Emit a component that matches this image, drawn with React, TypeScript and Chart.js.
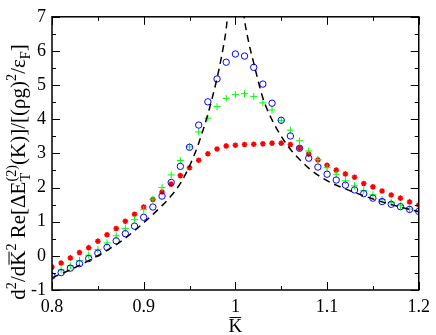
import { useEffect, useRef } from 'react';
import { Chart, registerables } from 'chart.js';

Chart.register(...registerables);

// ---- data ----
const kValues = [
  0.80, 0.81, 0.82, 0.83, 0.84, 0.85, 0.86, 0.87, 0.88, 0.89,
  0.90, 0.91, 0.92, 0.93, 0.94, 0.95, 0.96, 0.97, 0.98, 0.99,
  1.00, 1.01, 1.02, 1.03, 1.04, 1.05, 1.06, 1.07, 1.08, 1.09,
  1.10, 1.11, 1.12, 1.13, 1.14, 1.15, 1.16, 1.17, 1.18, 1.19, 1.20,
];
const blueCircles = [
  -0.59, -0.49, -0.36, -0.23, -0.08, 0.08, 0.25, 0.44, 0.65, 0.87,
  1.13, 1.43, 1.75, 2.15, 2.62, 3.18, 3.83, 4.51, 5.18, 5.67,
  5.91, 5.85, 5.52, 5.03, 4.47, 3.97, 3.51, 3.15, 2.86, 2.60,
  2.39, 2.22, 2.07, 1.93, 1.82, 1.69, 1.59, 1.51, 1.44, 1.36, 1.30,
];
const greenPlus = [
  -0.53, -0.41, -0.29, -0.14, 0.02, 0.19, 0.38, 0.59, 0.80, 1.06,
  1.35, 1.66, 2.00, 2.37, 2.79, 3.19, 3.63, 4.03, 4.37, 4.61,
  4.72, 4.75, 4.67, 4.48, 4.27, 3.96, 3.68, 3.37, 3.07, 2.82,
  2.58, 2.39, 2.20, 2.05, 1.91, 1.79, 1.65, 1.56, 1.47, 1.37, 1.31,
];
const redStars = [
  -0.33, -0.21, -0.06, 0.10, 0.24, 0.43, 0.62, 0.80, 1.01, 1.22,
  1.43, 1.65, 1.87, 2.10, 2.35, 2.58, 2.80, 2.99, 3.13, 3.22,
  3.24, 3.26, 3.27, 3.28, 3.30, 3.30, 3.26, 3.15, 2.98, 2.81,
  2.65, 2.51, 2.40, 2.30, 2.12, 2.02, 1.90, 1.78, 1.69, 1.58, 1.49,
];
const dashedK = [
  0.80, 0.82, 0.84, 0.86, 0.88, 0.90, 0.92, 0.93, 0.94, 0.95,
  0.96, 0.97, 0.98, 0.985, 0.99, 0.995,
  1.005, 1.01, 1.015, 1.02, 1.03, 1.04, 1.05, 1.06, 1.08, 1.10,
  1.12, 1.14, 1.16, 1.18, 1.20,
];
const dashedVals = [
  -0.64, -0.41, -0.14, 0.16, 0.52, 0.97, 1.47, 1.76, 2.12, 2.63,
  3.30, 4.15, 5.20, 5.85, 6.65, 8.0,
  8.0, 6.9, 6.2, 5.65, 4.62, 3.98, 3.50, 3.12, 2.57, 2.20,
  1.96, 1.76, 1.58, 1.43, 1.29,
];
const xMajorTicks = [0.8, 0.9, 1.0, 1.1, 1.2];
const xMinorTicks = [0.85, 0.95, 1.05, 1.15];
const yMajorTicks = [-1, 0, 1, 2, 3, 4, 5, 6, 7];
const yMinorTicks = [-0.5, 0.5, 1.5, 2.5, 3.5, 4.5, 5.5, 6.5];

const SERIF = '"Liberation Serif", "DejaVu Serif", serif';
const fnt = (s: number) => `${s}px ${SERIF}`;

type Seg = { t: string; m: 'n' | 'sup' | 'sub'; over?: boolean; sub?: string };

const yTitle: Seg[] = [
  { t: 'd', m: 'n' },
  { t: '2', m: 'sup' },
  { t: '/d', m: 'n' },
  { t: 'K', m: 'n', over: true },
  { t: '2', m: 'sup' },
  { t: ' Re[ΔE', m: 'n' },
  { t: '(2)', m: 'sup', sub: 'T' },
  { t: '(K)]/[(ρg)', m: 'n' },
  { t: '2', m: 'sup' },
  { t: '/ε', m: 'n' },
  { t: 'F', m: 'sub' },
  { t: ']', m: 'n' },
];

function layoutRich(ctx: CanvasRenderingContext2D, segs: Seg[], size: number, draw: boolean, x0: number) {
  let x = x0;
  const ss = size * 0.68;
  for (const s of segs) {
    if (s.m === 'n') {
      ctx.font = fnt(size);
      const w = ctx.measureText(s.t).width;
      if (draw) {
        ctx.fillText(s.t, x, 0);
        if (s.over) {
          ctx.beginPath();
          ctx.lineWidth = 1;
          ctx.moveTo(x + 1, -size * 0.76);
          ctx.lineTo(x + w - 1, -size * 0.76);
          ctx.stroke();
        }
      }
      x += w;
    } else {
      ctx.font = fnt(ss);
      const w1 = ctx.measureText(s.t).width;
      let w2 = 0;
      if (s.m === 'sup') {
        if (draw) ctx.fillText(s.t, x, -size * 0.42);
        if (s.sub) {
          w2 = ctx.measureText(s.sub).width;
          if (draw) ctx.fillText(s.sub, x, size * 0.25);
        }
      } else if (draw) {
        ctx.fillText(s.t, x, size * 0.25);
      }
      x += Math.max(w1, w2);
    }
  }
  return x - x0;
}

const framePlugin = {
  id: 'frame',
  afterDatasetsDraw(chart: any) {
    const { ctx, chartArea: a, scales } = chart;
    const xs = scales.x;
    const ys = scales.y;
    ctx.save();
    ctx.strokeStyle = '#000';
    ctx.fillStyle = '#000';
    ctx.lineWidth = 1.5;
    ctx.strokeRect(a.left, a.top, a.right - a.left, a.bottom - a.top);
    ctx.lineWidth = 1;
    ctx.beginPath();
    const xt = (vals: number[], len: number) => {
      for (const v of vals) {
        const p = Math.round(xs.getPixelForValue(v)) + 0.5;
        ctx.moveTo(p, a.bottom);
        ctx.lineTo(p, a.bottom - len);
        ctx.moveTo(p, a.top);
        ctx.lineTo(p, a.top + len);
      }
    };
    const yt = (vals: number[], len: number) => {
      for (const v of vals) {
        const p = Math.round(ys.getPixelForValue(v)) + 0.5;
        ctx.moveTo(a.left, p);
        ctx.lineTo(a.left + len, p);
        ctx.moveTo(a.right, p);
        ctx.lineTo(a.right - len, p);
      }
    };
    xt(xMajorTicks, 8);
    xt(xMinorTicks, 4);
    yt(yMajorTicks, 8);
    yt(yMinorTicks, 4);
    ctx.stroke();

    // x title: K with overline
    ctx.textBaseline = 'alphabetic';
    ctx.textAlign = 'left';
    ctx.font = fnt(19);
    const kw = ctx.measureText('K').width;
    const cx = (a.left + a.right) / 2;
    const by = 332;
    ctx.fillText('K', cx - kw / 2, by);
    ctx.beginPath();
    ctx.moveTo(cx - kw / 2 + 1, by - 19 * 0.76);
    ctx.lineTo(cx + kw / 2 - 1, by - 19 * 0.76);
    ctx.stroke();

    // y title (rotated rich text)
    ctx.save();
    ctx.translate(25, 172);
    ctx.rotate(-Math.PI / 2);
    const size = 21;
    const total = layoutRich(ctx, yTitle, size, false, 0);
    layoutRich(ctx, yTitle, size, true, -total / 2);
    ctx.restore();

    ctx.restore();
  },
};

export default function App() {
  const ref = useRef<HTMLCanvasElement | null>(null);
  useEffect(() => {
    document.body.style.margin = '0';
    const canvas = ref.current!;
    const zip = (xs: number[], ys: number[]) => xs.map((x, i) => ({ x, y: ys[i] }));
    const chart = new Chart(canvas, {
      type: 'line',
      data: {
        datasets: [
          {
            label: 'dashed',
            data: zip(dashedK, dashedVals),
            borderColor: '#000',
            borderWidth: 1.5,
            borderDash: [7, 5],
            pointRadius: 0,
            fill: false,
            cubicInterpolationMode: 'monotone',
          },
          {
            label: 'blue',
            data: zip(kValues, blueCircles),
            showLine: false,
            pointStyle: 'circle',
            pointRadius: 3.2,
            borderWidth: 1,
            borderColor: '#0000ff',
            backgroundColor: 'rgba(0,0,0,0)',
          },
          {
            label: 'green',
            data: zip(kValues, greenPlus),
            showLine: false,
            pointStyle: 'cross',
            pointRadius: 3.5,
            borderWidth: 1,
            borderColor: '#00ff00',
            backgroundColor: '#00ff00',
          },
          {
            label: 'red',
            data: zip(kValues, redStars),
            showLine: false,
            pointStyle: 'star',
            pointRadius: 2.8,
            borderWidth: 1.5,
            borderColor: '#ff0000',
            backgroundColor: '#ff0000',
          },
        ],
      },
      options: {
        animation: false,
        responsive: false,
        maintainAspectRatio: false,
        layout: { padding: { left: 8, right: 14, top: 8, bottom: 0 } },
        plugins: { legend: { display: false }, tooltip: { enabled: false } },
        scales: {
          x: {
            type: 'linear',
            min: 0.8,
            max: 1.2,
            grid: { display: false, drawTicks: false },
            border: { display: false },
            afterFit: (s: any) => { s.height = 45; },
            afterBuildTicks: (s: any) => { s.ticks = xMajorTicks.map((v) => ({ value: v })); },
            ticks: {
              padding: 6,
              color: '#000',
              font: { family: SERIF, size: 18 },
              maxRotation: 0,
              autoSkip: false,
              callback: (v: any) => String(Math.round(Number(v) * 10) / 10),
            },
          },
          y: {
            type: 'linear',
            min: -1,
            max: 7,
            grid: { display: false, drawTicks: false },
            border: { display: false },
            afterFit: (s: any) => { s.width = 44; },
            afterBuildTicks: (s: any) => { s.ticks = yMajorTicks.map((v) => ({ value: v })); },
            ticks: {
              padding: 6,
              color: '#000',
              font: { family: SERIF, size: 18 },
              autoSkip: false,
              callback: (v: any) => String(v),
            },
          },
        },
      },
      plugins: [framePlugin],
    } as any);
    return () => chart.destroy();
  }, []);
  return (
    <div style={{ width: 436, height: 335, background: '#fff' }}>
      <canvas ref={ref} width={436} height={335} style={{ display: 'block' }} />
    </div>
  );
}
